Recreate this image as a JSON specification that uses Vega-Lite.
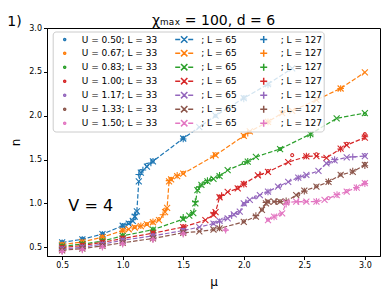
{
 "$schema": "https://vega.github.io/schema/vega-lite/v6.json",
 "width": 333,
 "height": 228,
 "autosize": {"type": "none"},
 "padding": {"left": 47, "top": 28, "right": 10, "bottom": 43},
 "title": {"text": "χₘₐₓ = 100, d = 6", "fontSize": 14, "font": "DejaVu Sans", "fontWeight": "normal", "color": "#000", "offset": -13, "frame": "group", "anchor": "middle"},
 "config": {
  "view": {"stroke": "#000", "strokeWidth": 1},
  "font": "DejaVu Sans",
  "axis": {"grid": false, "domainColor": "#000", "tickColor": "#000", "tickSize": 3.5, "labelFontSize": 8, "labelColor": "#000", "labelFont": "DejaVu Sans", "titleFont": "DejaVu Sans", "titleFontWeight": "normal", "titleFontSize": 12, "titleColor": "#000", "labelPadding": 2}
 },
 "datasets": {
  "pts": [
   {"s":"0.50|65","mu":0.5,"n":0.555},{"s":"0.50|65","mu":0.667,"n":0.59},{"s":"0.50|65","mu":0.833,"n":0.65},{"s":"0.50|65","mu":1.0,"n":0.745},{"s":"0.50|65","mu":1.05,"n":0.77},{"s":"0.50|65","mu":1.083,"n":0.8},{"s":"0.50|65","mu":1.1,"n":0.85},{"s":"0.50|65","mu":1.117,"n":0.91},{"s":"0.50|65","mu":1.133,"n":1.25},{"s":"0.50|65","mu":1.15,"n":1.35},{"s":"0.50|65","mu":1.2,"n":1.42},{"s":"0.50|65","mu":1.25,"n":1.48},{"s":"0.50|65","mu":1.5,"n":1.74},{"s":"0.50|65","mu":1.633,"n":1.87},{"s":"0.50|65","mu":1.767,"n":2.0},{"s":"0.50|65","mu":2.0,"n":2.2},{"s":"0.50|65","mu":2.2,"n":2.36},{"s":"0.50|65","mu":2.4,"n":2.54},
   {"s":"0.50|33","mu":0.5,"n":0.56},{"s":"0.50|33","mu":0.667,"n":0.6},{"s":"0.50|33","mu":0.833,"n":0.655},{"s":"0.50|33","mu":1.0,"n":0.75},{"s":"0.50|33","mu":1.05,"n":0.78},{"s":"0.50|33","mu":1.1,"n":0.83},{"s":"0.50|33","mu":1.117,"n":0.89},{"s":"0.50|33","mu":1.15,"n":1.37},{"s":"0.50|33","mu":1.2,"n":1.44},{"s":"0.50|33","mu":1.25,"n":1.49},{"s":"0.50|33","mu":1.5,"n":1.745},{"s":"0.50|33","mu":1.767,"n":2.0},{"s":"0.50|33","mu":2.0,"n":2.21},
   {"s":"0.50|127","mu":0.5,"n":0.55},{"s":"0.50|127","mu":0.667,"n":0.585},{"s":"0.50|127","mu":0.833,"n":0.645},{"s":"0.50|127","mu":1.0,"n":0.74},{"s":"0.50|127","mu":1.067,"n":0.79},{"s":"0.50|127","mu":1.1,"n":0.87},{"s":"0.50|127","mu":1.133,"n":1.33},{"s":"0.50|127","mu":1.167,"n":1.38},{"s":"0.50|127","mu":1.233,"n":1.46},{"s":"0.50|127","mu":1.5,"n":1.735},{"s":"0.50|127","mu":2.0,"n":2.19},{"s":"0.50|127","mu":2.2,"n":2.35},

   {"s":"0.67|65","mu":0.5,"n":0.53},{"s":"0.67|65","mu":0.667,"n":0.56},{"s":"0.67|65","mu":0.833,"n":0.615},{"s":"0.67|65","mu":1.0,"n":0.69},{"s":"0.67|65","mu":1.05,"n":0.705},{"s":"0.67|65","mu":1.1,"n":0.725},{"s":"0.67|65","mu":1.15,"n":0.74},{"s":"0.67|65","mu":1.2,"n":0.76},{"s":"0.67|65","mu":1.25,"n":0.785},{"s":"0.67|65","mu":1.3,"n":0.81},{"s":"0.67|65","mu":1.35,"n":0.9},{"s":"0.67|65","mu":1.367,"n":0.95},{"s":"0.67|65","mu":1.383,"n":1.25},{"s":"0.67|65","mu":1.4,"n":1.275},{"s":"0.67|65","mu":1.45,"n":1.31},{"s":"0.67|65","mu":1.5,"n":1.34},{"s":"0.67|65","mu":1.767,"n":1.55},{"s":"0.67|65","mu":2.0,"n":1.77},{"s":"0.67|65","mu":2.05,"n":1.82},{"s":"0.67|65","mu":2.2,"n":1.93},{"s":"0.67|65","mu":2.317,"n":2.03},{"s":"0.67|65","mu":2.4,"n":2.055},{"s":"0.67|65","mu":2.6,"n":2.18},{"s":"0.67|65","mu":2.8,"n":2.31},{"s":"0.67|65","mu":3.0,"n":2.495},
   {"s":"0.67|33","mu":0.5,"n":0.535},{"s":"0.67|33","mu":0.667,"n":0.565},{"s":"0.67|33","mu":0.833,"n":0.62},{"s":"0.67|33","mu":1.0,"n":0.695},{"s":"0.67|33","mu":1.1,"n":0.73},{"s":"0.67|33","mu":1.2,"n":0.765},{"s":"0.67|33","mu":1.3,"n":0.82},{"s":"0.67|33","mu":1.35,"n":0.93},{"s":"0.67|33","mu":1.4,"n":1.28},{"s":"0.67|33","mu":1.5,"n":1.35},{"s":"0.67|33","mu":1.767,"n":1.56},{"s":"0.67|33","mu":2.0,"n":1.77},{"s":"0.67|33","mu":2.317,"n":2.04},{"s":"0.67|33","mu":2.6,"n":2.19},
   {"s":"0.67|127","mu":0.5,"n":0.525},{"s":"0.67|127","mu":0.667,"n":0.555},{"s":"0.67|127","mu":0.833,"n":0.61},{"s":"0.67|127","mu":1.0,"n":0.685},{"s":"0.67|127","mu":1.15,"n":0.745},{"s":"0.67|127","mu":1.25,"n":0.79},{"s":"0.67|127","mu":1.333,"n":0.87},{"s":"0.67|127","mu":1.383,"n":1.26},{"s":"0.67|127","mu":1.45,"n":1.32},{"s":"0.67|127","mu":1.75,"n":1.54},{"s":"0.67|127","mu":2.033,"n":1.8},{"s":"0.67|127","mu":2.2,"n":1.93},{"s":"0.67|127","mu":2.8,"n":2.31},

   {"s":"0.83|65","mu":0.5,"n":0.51},{"s":"0.83|65","mu":0.667,"n":0.535},{"s":"0.83|65","mu":0.833,"n":0.57},{"s":"0.83|65","mu":1.0,"n":0.63},{"s":"0.83|65","mu":1.25,"n":0.7},{"s":"0.83|65","mu":1.5,"n":0.82},{"s":"0.83|65","mu":1.55,"n":0.86},{"s":"0.83|65","mu":1.583,"n":0.89},{"s":"0.83|65","mu":1.6,"n":1.0},{"s":"0.83|65","mu":1.617,"n":1.15},{"s":"0.83|65","mu":1.65,"n":1.21},{"s":"0.83|65","mu":1.7,"n":1.25},{"s":"0.83|65","mu":1.75,"n":1.28},{"s":"0.83|65","mu":1.8,"n":1.31},{"s":"0.83|65","mu":1.867,"n":1.38},{"s":"0.83|65","mu":2.033,"n":1.475},{"s":"0.83|65","mu":2.1,"n":1.53},{"s":"0.83|65","mu":2.3,"n":1.62},{"s":"0.83|65","mu":2.55,"n":1.79},{"s":"0.83|65","mu":2.767,"n":1.97},{"s":"0.83|65","mu":3.0,"n":2.03},
   {"s":"0.83|33","mu":0.5,"n":0.515},{"s":"0.83|33","mu":0.667,"n":0.54},{"s":"0.83|33","mu":0.833,"n":0.575},{"s":"0.83|33","mu":1.0,"n":0.635},{"s":"0.83|33","mu":1.25,"n":0.705},{"s":"0.83|33","mu":1.5,"n":0.83},{"s":"0.83|33","mu":1.567,"n":0.88},{"s":"0.83|33","mu":1.617,"n":1.17},{"s":"0.83|33","mu":1.667,"n":1.23},{"s":"0.83|33","mu":1.733,"n":1.28},{"s":"0.83|33","mu":2.0,"n":1.46},{"s":"0.83|33","mu":2.3,"n":1.62},{"s":"0.83|33","mu":3.0,"n":2.02},
   {"s":"0.83|127","mu":0.5,"n":0.505},{"s":"0.83|127","mu":0.667,"n":0.53},{"s":"0.83|127","mu":0.833,"n":0.565},{"s":"0.83|127","mu":1.0,"n":0.625},{"s":"0.83|127","mu":1.25,"n":0.695},{"s":"0.83|127","mu":1.5,"n":0.84},{"s":"0.83|127","mu":1.6,"n":1.02},{"s":"0.83|127","mu":1.633,"n":1.19},{"s":"0.83|127","mu":1.7,"n":1.26},{"s":"0.83|127","mu":1.8,"n":1.32},{"s":"0.83|127","mu":2.033,"n":1.48},{"s":"0.83|127","mu":2.55,"n":1.78},

   {"s":"1.00|65","mu":0.5,"n":0.495},{"s":"1.00|65","mu":0.667,"n":0.52},{"s":"1.00|65","mu":0.833,"n":0.555},{"s":"1.00|65","mu":1.0,"n":0.6},{"s":"1.00|65","mu":1.25,"n":0.66},{"s":"1.00|65","mu":1.5,"n":0.73},{"s":"1.00|65","mu":1.683,"n":0.81},{"s":"1.00|65","mu":1.75,"n":0.87},{"s":"1.00|65","mu":1.767,"n":0.9},{"s":"1.00|65","mu":1.8,"n":1.07},{"s":"1.00|65","mu":1.867,"n":1.13},{"s":"1.00|65","mu":1.95,"n":1.17},{"s":"1.00|65","mu":2.0,"n":1.22},{"s":"1.00|65","mu":2.117,"n":1.32},{"s":"1.00|65","mu":2.2,"n":1.36},{"s":"1.00|65","mu":2.367,"n":1.47},{"s":"1.00|65","mu":2.517,"n":1.535},{"s":"1.00|65","mu":2.6,"n":1.54},{"s":"1.00|65","mu":2.683,"n":1.52},{"s":"1.00|65","mu":2.8,"n":1.625},{"s":"1.00|65","mu":2.85,"n":1.665},{"s":"1.00|65","mu":3.0,"n":1.75},
   {"s":"1.00|33","mu":0.5,"n":0.5},{"s":"1.00|33","mu":0.667,"n":0.525},{"s":"1.00|33","mu":0.833,"n":0.56},{"s":"1.00|33","mu":1.0,"n":0.605},{"s":"1.00|33","mu":1.25,"n":0.665},{"s":"1.00|33","mu":1.5,"n":0.74},{"s":"1.00|33","mu":1.75,"n":0.88},{"s":"1.00|33","mu":1.8,"n":1.08},{"s":"1.00|33","mu":1.95,"n":1.18},{"s":"1.00|33","mu":2.0,"n":1.23},{"s":"1.00|33","mu":2.2,"n":1.37},{"s":"1.00|33","mu":2.4,"n":1.55},{"s":"1.00|33","mu":2.6,"n":1.56},{"s":"1.00|33","mu":2.85,"n":1.68},{"s":"1.00|33","mu":3.0,"n":1.79},
   {"s":"1.00|127","mu":0.5,"n":0.49},{"s":"1.00|127","mu":0.667,"n":0.515},{"s":"1.00|127","mu":0.833,"n":0.55},{"s":"1.00|127","mu":1.0,"n":0.595},{"s":"1.00|127","mu":1.25,"n":0.655},{"s":"1.00|127","mu":1.5,"n":0.725},{"s":"1.00|127","mu":1.75,"n":0.89},{"s":"1.00|127","mu":1.817,"n":1.09},{"s":"1.00|127","mu":2.0,"n":1.22},{"s":"1.00|127","mu":2.133,"n":1.33},{"s":"1.00|127","mu":2.517,"n":1.54},{"s":"1.00|127","mu":2.8,"n":1.62},{"s":"1.00|127","mu":3.0,"n":1.76},

   {"s":"1.17|65","mu":0.5,"n":0.48},{"s":"1.17|65","mu":0.667,"n":0.5},{"s":"1.17|65","mu":0.833,"n":0.535},{"s":"1.17|65","mu":1.0,"n":0.58},{"s":"1.17|65","mu":1.25,"n":0.63},{"s":"1.17|65","mu":1.5,"n":0.69},{"s":"1.17|65","mu":1.633,"n":0.73},{"s":"1.17|65","mu":1.75,"n":0.77},{"s":"1.17|65","mu":1.8,"n":0.8},{"s":"1.17|65","mu":1.867,"n":0.83},{"s":"1.17|65","mu":1.917,"n":0.875},{"s":"1.17|65","mu":1.967,"n":0.905},{"s":"1.17|65","mu":2.0,"n":1.0},{"s":"1.17|65","mu":2.05,"n":1.04},{"s":"1.17|65","mu":2.133,"n":1.095},{"s":"1.17|65","mu":2.2,"n":1.135},{"s":"1.17|65","mu":2.283,"n":1.19},{"s":"1.17|65","mu":2.367,"n":1.245},{"s":"1.17|65","mu":2.45,"n":1.295},{"s":"1.17|65","mu":2.517,"n":1.325},{"s":"1.17|65","mu":2.617,"n":1.37},{"s":"1.17|65","mu":2.683,"n":1.455},{"s":"1.17|65","mu":2.75,"n":1.49},{"s":"1.17|65","mu":2.85,"n":1.525},{"s":"1.17|65","mu":3.0,"n":1.54},
   {"s":"1.17|33","mu":0.5,"n":0.485},{"s":"1.17|33","mu":0.667,"n":0.505},{"s":"1.17|33","mu":0.833,"n":0.54},{"s":"1.17|33","mu":1.0,"n":0.585},{"s":"1.17|33","mu":1.25,"n":0.635},{"s":"1.17|33","mu":1.5,"n":0.7},{"s":"1.17|33","mu":1.75,"n":0.775},{"s":"1.17|33","mu":1.85,"n":0.83},{"s":"1.17|33","mu":1.95,"n":0.89},{"s":"1.17|33","mu":2.0,"n":0.99},{"s":"1.17|33","mu":2.1,"n":1.07},{"s":"1.17|33","mu":2.3,"n":1.2},{"s":"1.17|33","mu":2.5,"n":1.31},{"s":"1.17|33","mu":2.7,"n":1.46},{"s":"1.17|33","mu":3.0,"n":1.55},
   {"s":"1.17|127","mu":0.5,"n":0.475},{"s":"1.17|127","mu":0.667,"n":0.495},{"s":"1.17|127","mu":0.833,"n":0.53},{"s":"1.17|127","mu":1.0,"n":0.575},{"s":"1.17|127","mu":1.25,"n":0.625},{"s":"1.17|127","mu":1.5,"n":0.685},{"s":"1.17|127","mu":1.8,"n":0.79},{"s":"1.17|127","mu":1.9,"n":0.86},{"s":"1.17|127","mu":2.017,"n":1.01},{"s":"1.17|127","mu":2.2,"n":1.13},{"s":"1.17|127","mu":2.45,"n":1.29},{"s":"1.17|127","mu":2.75,"n":1.5},{"s":"1.17|127","mu":2.9,"n":1.53},

   {"s":"1.33|65","mu":0.5,"n":0.465},{"s":"1.33|65","mu":0.667,"n":0.485},{"s":"1.33|65","mu":0.833,"n":0.515},{"s":"1.33|65","mu":1.0,"n":0.55},{"s":"1.33|65","mu":1.25,"n":0.6},{"s":"1.33|65","mu":1.5,"n":0.665},{"s":"1.33|65","mu":1.633,"n":0.68},{"s":"1.33|65","mu":1.75,"n":0.7},{"s":"1.33|65","mu":1.8,"n":0.715},{"s":"1.33|65","mu":2.0,"n":0.79},{"s":"1.33|65","mu":2.1,"n":0.85},{"s":"1.33|65","mu":2.15,"n":0.925},{"s":"1.33|65","mu":2.183,"n":1.0},{"s":"1.33|65","mu":2.2,"n":1.02},{"s":"1.33|65","mu":2.25,"n":1.02},{"s":"1.33|65","mu":2.3,"n":1.02},{"s":"1.33|65","mu":2.35,"n":1.02},{"s":"1.33|65","mu":2.433,"n":1.095},{"s":"1.33|65","mu":2.5,"n":1.145},{"s":"1.33|65","mu":2.6,"n":1.19},{"s":"1.33|65","mu":2.7,"n":1.245},{"s":"1.33|65","mu":2.8,"n":1.325},{"s":"1.33|65","mu":2.9,"n":1.36},{"s":"1.33|65","mu":3.0,"n":1.44},
   {"s":"1.33|33","mu":0.5,"n":0.47},{"s":"1.33|33","mu":0.667,"n":0.49},{"s":"1.33|33","mu":0.833,"n":0.52},{"s":"1.33|33","mu":1.0,"n":0.555},{"s":"1.33|33","mu":1.25,"n":0.605},{"s":"1.33|33","mu":1.5,"n":0.67},{"s":"1.33|33","mu":1.75,"n":0.705},{"s":"1.33|33","mu":2.0,"n":0.795},{"s":"1.33|33","mu":2.15,"n":0.93},{"s":"1.33|33","mu":2.2,"n":1.02},{"s":"1.33|33","mu":2.3,"n":1.025},{"s":"1.33|33","mu":2.45,"n":1.1},{"s":"1.33|33","mu":2.6,"n":1.195},{"s":"1.33|33","mu":2.8,"n":1.33},{"s":"1.33|33","mu":3.0,"n":1.45},
   {"s":"1.33|127","mu":0.5,"n":0.46},{"s":"1.33|127","mu":0.667,"n":0.48},{"s":"1.33|127","mu":0.833,"n":0.51},{"s":"1.33|127","mu":1.0,"n":0.545},{"s":"1.33|127","mu":1.25,"n":0.595},{"s":"1.33|127","mu":1.5,"n":0.66},{"s":"1.33|127","mu":1.8,"n":0.72},{"s":"1.33|127","mu":2.1,"n":0.86},{"s":"1.33|127","mu":2.183,"n":1.01},{"s":"1.33|127","mu":2.267,"n":1.02},{"s":"1.33|127","mu":2.35,"n":1.03},{"s":"1.33|127","mu":2.5,"n":1.14},{"s":"1.33|127","mu":2.7,"n":1.25},{"s":"1.33|127","mu":2.9,"n":1.37},{"s":"1.33|127","mu":3.0,"n":1.43},

   {"s":"1.50|65","mu":2.2,"n":0.81},{"s":"1.50|65","mu":2.25,"n":0.85},{"s":"1.50|65","mu":2.317,"n":0.885},{"s":"1.50|65","mu":2.35,"n":1.01},{"s":"1.50|65","mu":2.433,"n":1.02},{"s":"1.50|65","mu":2.517,"n":1.02},{"s":"1.50|65","mu":2.6,"n":1.02},{"s":"1.50|65","mu":2.667,"n":1.04},{"s":"1.50|65","mu":2.767,"n":1.095},{"s":"1.50|65","mu":2.85,"n":1.135},{"s":"1.50|65","mu":2.933,"n":1.18},{"s":"1.50|65","mu":3.0,"n":1.23},
   {"s":"1.50|33","mu":0.5,"n":0.455},{"s":"1.50|33","mu":0.667,"n":0.475},{"s":"1.50|33","mu":0.833,"n":0.505},{"s":"1.50|33","mu":1.0,"n":0.54},{"s":"1.50|33","mu":1.25,"n":0.59},{"s":"1.50|33","mu":1.5,"n":0.655},{"s":"1.50|33","mu":1.85,"n":0.7},{"s":"1.50|33","mu":2.2,"n":0.815},{"s":"1.50|33","mu":2.3,"n":0.875},{"s":"1.50|33","mu":2.367,"n":1.015},{"s":"1.50|33","mu":2.5,"n":1.02},{"s":"1.50|33","mu":2.7,"n":1.06},{"s":"1.50|33","mu":2.85,"n":1.14},{"s":"1.50|33","mu":3.0,"n":1.235},
   {"s":"1.50|127","mu":0.5,"n":0.45},{"s":"1.50|127","mu":0.667,"n":0.47},{"s":"1.50|127","mu":0.833,"n":0.5},{"s":"1.50|127","mu":1.0,"n":0.535},{"s":"1.50|127","mu":1.25,"n":0.585},{"s":"1.50|127","mu":1.5,"n":0.65},{"s":"1.50|127","mu":1.85,"n":0.695},{"s":"1.50|127","mu":2.25,"n":0.845},{"s":"1.50|127","mu":2.35,"n":0.99},{"s":"1.50|127","mu":2.45,"n":1.02},{"s":"1.50|127","mu":2.6,"n":1.025},{"s":"1.50|127","mu":2.77,"n":1.1},{"s":"1.50|127","mu":2.93,"n":1.18},{"s":"1.50|127","mu":3.0,"n":1.225}
  ]
 },
 "encoding": {
  "x": {"field": "mu", "type": "quantitative", "scale": {"domain": [0.375, 3.125], "nice": false, "zero": false}, "axis": {"title": "μ", "values": [0.5, 1, 1.5, 2, 2.5, 3], "format": ".1f", "titlePadding": 7}},
  "y": {"field": "n", "type": "quantitative", "scale": {"domain": [0.4, 3.0], "nice": false, "zero": false}, "axis": {"title": "n", "values": [0.5, 1, 1.5, 2, 2.5, 3], "format": ".1f", "titlePadding": 6}}
 },
 "layer": [
  {
   "data": {"name": "pts"},
   "transform": [{"filter": "indexof(datum.s, '|65') >= 0"}],
   "mark": {"type": "line", "strokeWidth": 1.2, "strokeDash": [4.5, 2], "clip": true},
   "encoding": {
    "color": {"field": "s", "type": "nominal", "legend": null, "scale": {"domain": ["0.50|33","0.67|33","0.83|33","1.00|33","1.17|33","1.33|33","1.50|33","0.50|65","0.67|65","0.83|65","1.00|65","1.17|65","1.33|65","1.50|65","0.50|127","0.67|127","0.83|127","1.00|127","1.17|127","1.33|127","1.50|127"], "range": ["#1f77b4","#ff7f0e","#2ca02c","#d62728","#9467bd","#8c564b","#e377c2","#1f77b4","#ff7f0e","#2ca02c","#d62728","#9467bd","#8c564b","#e377c2","#1f77b4","#ff7f0e","#2ca02c","#d62728","#9467bd","#8c564b","#e377c2"]}}
   }
  },
  {
   "data": {"name": "pts"},
   "mark": {"type": "point", "filled": false, "size": 36, "strokeWidth": 1.1, "opacity": 1, "clip": true},
   "encoding": {
    "color": {"field": "s", "type": "nominal", "legend": null, "scale": {"domain": ["0.50|33","0.67|33","0.83|33","1.00|33","1.17|33","1.33|33","1.50|33","0.50|65","0.67|65","0.83|65","1.00|65","1.17|65","1.33|65","1.50|65","0.50|127","0.67|127","0.83|127","1.00|127","1.17|127","1.33|127","1.50|127"], "range": ["#1f77b4","#ff7f0e","#2ca02c","#d62728","#9467bd","#8c564b","#e377c2","#1f77b4","#ff7f0e","#2ca02c","#d62728","#9467bd","#8c564b","#e377c2","#1f77b4","#ff7f0e","#2ca02c","#d62728","#9467bd","#8c564b","#e377c2"]}},
    "shape": {"field": "s", "type": "nominal", "legend": null, "scale": {"domain": ["0.50|33","0.67|33","0.83|33","1.00|33","1.17|33","1.33|33","1.50|33","0.50|65","0.67|65","0.83|65","1.00|65","1.17|65","1.33|65","1.50|65","0.50|127","0.67|127","0.83|127","1.00|127","1.17|127","1.33|127","1.50|127"], "range": [
      "M-0.5,0A0.5,0.5,0,1,1,0.5,0A0.5,0.5,0,1,1,-0.5,0Z","M-0.5,0A0.5,0.5,0,1,1,0.5,0A0.5,0.5,0,1,1,-0.5,0Z","M-0.5,0A0.5,0.5,0,1,1,0.5,0A0.5,0.5,0,1,1,-0.5,0Z","M-0.5,0A0.5,0.5,0,1,1,0.5,0A0.5,0.5,0,1,1,-0.5,0Z","M-0.5,0A0.5,0.5,0,1,1,0.5,0A0.5,0.5,0,1,1,-0.5,0Z","M-0.5,0A0.5,0.5,0,1,1,0.5,0A0.5,0.5,0,1,1,-0.5,0Z","M-0.5,0A0.5,0.5,0,1,1,0.5,0A0.5,0.5,0,1,1,-0.5,0Z",
      "M-1,-1L1,1M-1,1L1,-1","M-1,-1L1,1M-1,1L1,-1","M-1,-1L1,1M-1,1L1,-1","M-1,-1L1,1M-1,1L1,-1","M-1,-1L1,1M-1,1L1,-1","M-1,-1L1,1M-1,1L1,-1","M-1,-1L1,1M-1,1L1,-1",
      "M-1.1,0L1.1,0M0,-1.1L0,1.1","M-1.1,0L1.1,0M0,-1.1L0,1.1","M-1.1,0L1.1,0M0,-1.1L0,1.1","M-1.1,0L1.1,0M0,-1.1L0,1.1","M-1.1,0L1.1,0M0,-1.1L0,1.1","M-1.1,0L1.1,0M0,-1.1L0,1.1","M-1.1,0L1.1,0M0,-1.1L0,1.1"]}}
   }
  },
  {
   "data": {"name": "pts"},
   "transform": [{"filter": "false"}],
   "mark": {"type": "point", "filled": false, "strokeWidth": 1.5, "opacity": 1},
   "encoding": {
    "color": {"field": "s", "type": "nominal",
     "scale": {"domain": ["0.50|33","0.67|33","0.83|33","1.00|33","1.17|33","1.33|33","1.50|33","0.50|65","0.67|65","0.83|65","1.00|65","1.17|65","1.33|65","1.50|65","0.50|127","0.67|127","0.83|127","1.00|127","1.17|127","1.33|127","1.50|127"], "range": ["#1f77b4","#ff7f0e","#2ca02c","#d62728","#9467bd","#8c564b","#e377c2","#1f77b4","#ff7f0e","#2ca02c","#d62728","#9467bd","#8c564b","#e377c2","#1f77b4","#ff7f0e","#2ca02c","#d62728","#9467bd","#8c564b","#e377c2"]},
     "legend": {"orient": "none", "legendX": 5.7, "legendY": 3.5, "columns": 3, "title": null, "columnPadding": 15.5, "rowPadding": 0, "clipHeight": 13.3, "symbolSize": 400, "symbolStrokeWidth": 1.5, "labelFontSize": 9, "labelFont": "DejaVu Sans", "labelColor": "#000", "labelOffset": 6, "fillColor": "rgba(255,255,255,0.8)", "strokeColor": "#cccccc", "cornerRadius": 3, "padding": 1, "labelExpr": "split(datum.label, '|')[1] == '33' ? 'U = ' + split(datum.label, '|')[0] + '; L = 33' : '; L = ' + split(datum.label, '|')[1]"}},
    "shape": {"field": "s", "type": "nominal",
     "scale": {"domain": ["0.50|33","0.67|33","0.83|33","1.00|33","1.17|33","1.33|33","1.50|33","0.50|65","0.67|65","0.83|65","1.00|65","1.17|65","1.33|65","1.50|65","0.50|127","0.67|127","0.83|127","1.00|127","1.17|127","1.33|127","1.50|127"], "range": [
      "M-0.1,0A0.1,0.1,0,1,1,0.1,0A0.1,0.1,0,1,1,-0.1,0Z","M-0.1,0A0.1,0.1,0,1,1,0.1,0A0.1,0.1,0,1,1,-0.1,0Z","M-0.1,0A0.1,0.1,0,1,1,0.1,0A0.1,0.1,0,1,1,-0.1,0Z","M-0.1,0A0.1,0.1,0,1,1,0.1,0A0.1,0.1,0,1,1,-0.1,0Z","M-0.1,0A0.1,0.1,0,1,1,0.1,0A0.1,0.1,0,1,1,-0.1,0Z","M-0.1,0A0.1,0.1,0,1,1,0.1,0A0.1,0.1,0,1,1,-0.1,0Z","M-0.1,0A0.1,0.1,0,1,1,0.1,0A0.1,0.1,0,1,1,-0.1,0Z",
      "M-0.9,0H-0.4M-0.15,0H0.15M0.4,0H0.9M-0.32,-0.32L0.32,0.32M-0.32,0.32L0.32,-0.32","M-0.9,0H-0.4M-0.15,0H0.15M0.4,0H0.9M-0.32,-0.32L0.32,0.32M-0.32,0.32L0.32,-0.32","M-0.9,0H-0.4M-0.15,0H0.15M0.4,0H0.9M-0.32,-0.32L0.32,0.32M-0.32,0.32L0.32,-0.32","M-0.9,0H-0.4M-0.15,0H0.15M0.4,0H0.9M-0.32,-0.32L0.32,0.32M-0.32,0.32L0.32,-0.32","M-0.9,0H-0.4M-0.15,0H0.15M0.4,0H0.9M-0.32,-0.32L0.32,0.32M-0.32,0.32L0.32,-0.32","M-0.9,0H-0.4M-0.15,0H0.15M0.4,0H0.9M-0.32,-0.32L0.32,0.32M-0.32,0.32L0.32,-0.32","M-0.9,0H-0.4M-0.15,0H0.15M0.4,0H0.9M-0.32,-0.32L0.32,0.32M-0.32,0.32L0.32,-0.32",
      "M-0.35,0H0.35M0,-0.35V0.35","M-0.35,0H0.35M0,-0.35V0.35","M-0.35,0H0.35M0,-0.35V0.35","M-0.35,0H0.35M0,-0.35V0.35","M-0.35,0H0.35M0,-0.35V0.35","M-0.35,0H0.35M0,-0.35V0.35","M-0.35,0H0.35M0,-0.35V0.35"]},
     "legend": {"orient": "none", "legendX": 5.7, "legendY": 3.5, "columns": 3, "title": null, "columnPadding": 15.5, "rowPadding": 0, "clipHeight": 13.3, "symbolSize": 400, "symbolStrokeWidth": 1.5, "labelFontSize": 9, "labelFont": "DejaVu Sans", "labelColor": "#000", "labelOffset": 6, "fillColor": "rgba(255,255,255,0.8)", "strokeColor": "#cccccc", "cornerRadius": 3, "padding": 1, "labelExpr": "split(datum.label, '|')[1] == '33' ? 'U = ' + split(datum.label, '|')[0] + '; L = 33' : '; L = ' + split(datum.label, '|')[1]"}}
   }
  },
  {
   "data": {"values": [{"t": "V = 4", "mu": 0.736, "n": 0.97}]},
   "mark": {"type": "text", "fontSize": 16, "font": "DejaVu Sans", "align": "center", "baseline": "middle", "color": "#000"},
   "encoding": {"text": {"field": "t", "type": "nominal"}}
  },
  {
   "data": {"values": [{"t": "1)", "mu": 0.106, "n": 3.074}]},
   "mark": {"type": "text", "fontSize": 14, "font": "DejaVu Sans", "align": "center", "baseline": "middle", "color": "#000", "clip": false},
   "encoding": {"text": {"field": "t", "type": "nominal"}}
  }
 ],
 "resolve": {"scale": {"color": "independent", "shape": "independent"}}
}
